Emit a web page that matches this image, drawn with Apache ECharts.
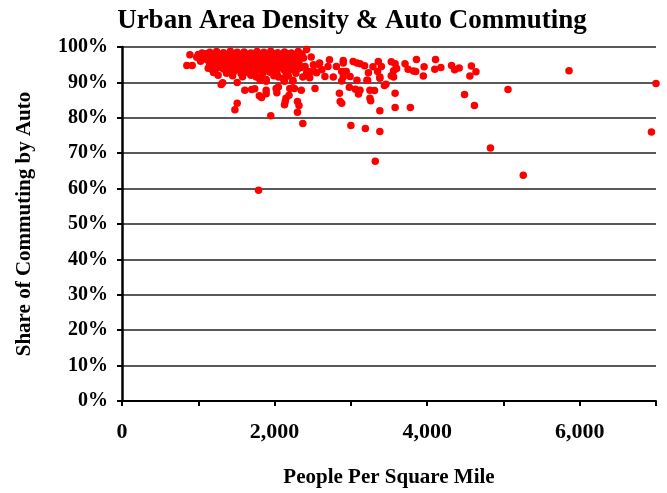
<!DOCTYPE html>
<html>
<head>
<meta charset="utf-8">
<script src="https://cdn.jsdelivr.net/npm/echarts@6/dist/echarts.min.js"></script>
<style>html,body{margin:0;padding:0;background:#fff}#c{width:667px;height:493px}</style>
</head>
<body>
<div id="c"></div>
<script>
// [people per square mile, share of commuting by auto (%)]
const corePoints = [
  [1050,98.3],[1150,98.5],[1240,98.7],[1330,98.4],[1420,98.8],[1510,98.5],[1600,98.6],[1690,98.3],[1770,98.7],[1860,98.5],[1950,98.8],[2040,98.4],[2130,98.6],[2220,98.3],[2310,98.7],
  [1000,97.9],[1090,98.1],[1180,97.8],[1270,98.0],[1360,97.7],[1450,98.1],[1540,97.9],[1630,98.0],[1720,97.8],[1810,98.0],[1900,97.7],[1990,98.1],[2080,97.9],[2170,98.1],[2260,97.8],[2360,98.0],
  [980,97.1],[1070,96.8],[1160,97.2],[1250,96.9],[1340,97.3],[1430,96.8],[1520,97.1],[1610,96.9],[1700,97.3],[1790,96.8],[1880,97.0],[1970,97.2],[2060,96.8],[2150,97.1],[2240,96.9],[2330,97.2],
  [1030,96.0],[1120,96.3],[1210,95.9],[1300,96.2],[1390,96.4],[1480,96.0],[1570,96.3],[1660,95.9],[1750,96.2],[1840,96.4],[1930,96.0],[2020,96.3],[2110,95.9],[2200,96.2],[2290,96.0],
  [1150,95.2],[1240,95.5],[1330,95.1],[1420,95.4],[1510,95.6],[1600,95.2],[1690,95.5],[1780,95.1],[1870,95.4],[1960,95.2],[2050,95.6],[2140,95.3],[2230,95.0],[2320,95.4],
  [1180,94.6],[1270,94.3],[1360,94.7],[1450,94.4],[1540,94.6],[1630,94.2],[1720,94.7],[1810,94.4],[1900,94.5],[1990,94.2],[2080,94.6],[2170,94.4],[2260,94.7],[2350,94.2],
  [1220,93.5],[1330,93.8],[1420,93.4],[1500,93.7],[1590,93.5],[1680,93.9],[1770,93.4],[1860,93.7],[1950,93.5],[2040,93.8],[2130,93.4],[2220,93.6],[2310,93.9],
  [1370,92.6],[1460,92.9],[1560,92.5],[1650,92.8],[1740,92.4],[1850,92.7],[1940,92.9],[2030,92.5],[2150,92.8],[2280,92.6],
  [1450,91.9],[1580,91.6],[1690,92.0],[1830,91.7],[1990,91.9],[2180,91.8],
  [1130,94.0],[1200,92.8],[1260,92.0],[1190,93.4]
];
const fringePoints = [
  [890,97.8],[850,94.8],[920,94.8],[2420,99.3],[2480,97.2],[2380,96.9],[2400,94.5],[2420,92.7],[2460,93.1],
  [2510,95.0],[2550,92.7],[2590,95.5],[2620,93.6],[2660,91.7],[2700,94.5],[2720,96.4],[2810,94.5],[2880,93.1],
  [2900,95.5],[2900,96.2],[2940,93.1],[2990,91.7],[3030,95.9],[3080,95.5],[3120,95.3],[3180,94.7],[3230,92.7],
  [3290,94.4],[3350,93.1],[3360,95.9],[3400,94.5],[3380,91.5],[3530,95.8],[3580,95.3],[3600,93.9],[3560,91.5],
  [3530,91.9],[3710,95.3],[3750,93.7],[3820,93.2],[3850,93.1],[3860,96.5],[3960,94.4],[3950,91.8],[4110,96.5],
  [4100,93.7],[4180,94.2],[4320,94.8],[4360,93.6],[4420,94.1],[4580,94.6],[4640,93.0],[4560,91.8],
  [2770,91.5],[2900,91.5],[2880,90.4],[3080,90.6],[3210,90.6],[3220,90.6],[3380,91.2],[3560,93.3],
  [2520,93.1],[2580,95.0],[2370,91.5],[2440,92.0],[2460,91.3],[2050,91.5],[2110,91.1],[2240,90.6],[2130,90.3],
  [2240,90.3],[1760,91.5],[1810,90.6],[1890,90.3],[1890,90.8],[1320,89.9],[1300,89.4],[1510,90.0]
];
const lowerPoints = [
  [1610,87.8],[1700,88.0],[1740,88.2],[1890,87.8],[2030,87.1],[2020,88.3],[2050,88.7],[2200,88.3],[2260,88.3],
  [2350,87.8],[2530,88.3],[2980,88.6],[3060,88.1],[3120,87.8],[3250,87.8],[3310,87.7],[3460,89.5],[3440,89.1],
  [2850,86.9],[3100,86.7],[3580,86.9],[1800,86.2],[1830,85.7],[1890,86.8],[2190,86.4],[2150,85.5],[2140,84.6],
  [2130,83.7],[2300,84.6],[2320,83.5],[2860,84.6],[2880,84.1],[3250,85.5],[3260,84.8],[1510,84.1],[1480,82.3],
  [3580,82.9],[3780,82.9],[3380,82.0],[4490,86.6],[4620,83.5],[5060,88.0],[5860,93.3],[7000,89.7],
  [1950,80.6],[2300,81.6],[2370,78.4],[3000,77.8],[3190,77.0],[3380,76.1],[6940,76.0],
  [4830,71.5],[3320,67.7],[5260,63.8],[1790,59.5]
];
const xTicks = [0,1000,2000,3000,4000,5000,6000,7000];
const xLabels = ['0','','2,000','','4,000','','6,000',''];
const yTicks = [0,10,20,30,40,50,60,70,80,90,100];

const font = '"Liberation Serif", "DejaVu Serif", serif';
const chart = echarts.init(document.getElementById('c'), null, {renderer:'canvas'});
const dot = {type:'scatter', symbol:'circle', symbolSize:7.5, clip:false, itemStyle:{color:'#ff0000', opacity:1}};
chart.setOption({
  animation:false,
  backgroundColor:'#fff',
  title:{
    text:'Urban Area Density & Auto Commuting',
    left:347, top:3, textAlign:'center',
    textStyle:{fontFamily:font, fontWeight:'bold', fontSize:27, color:'#000'}
  },
  grid:{left:122, width:534, top:47, height:355, containLabel:false},
  xAxis:{
    type:'value', min:xTicks[0], max:xTicks[xTicks.length-1], interval:1000,
    name:'People Per Square Mile', nameLocation:'middle', nameGap:66,
    nameTextStyle:{fontFamily:font, fontWeight:'bold', fontSize:21, color:'#000'},
    axisLine:{show:true, onZero:false, lineStyle:{color:'#000', width:2}},
    axisTick:{show:true, inside:false, length:5, lineStyle:{color:'#000', width:2}},
    axisLabel:{margin:20, fontFamily:font, fontWeight:'bold', fontSize:22, color:'#000',
      formatter:(v)=>{const i=xTicks.indexOf(v);return i>=0?xLabels[i]:'';}},
    splitLine:{show:false}
  },
  yAxis:{
    type:'value', min:yTicks[0], max:yTicks[yTicks.length-1], interval:10,
    name:'Share of Commuting by Auto', nameLocation:'middle', nameGap:87, nameRotate:90,
    nameTextStyle:{fontFamily:font, fontWeight:'bold', fontSize:21, color:'#000'},
    axisLine:{show:true, lineStyle:{color:'#000', width:2.5}},
    axisTick:{show:true, inside:false, length:5, lineStyle:{color:'#000', width:2}},
    axisLabel:{margin:14, fontFamily:font, fontWeight:'bold', fontSize:20, color:'#000',
      formatter:'{value}%'},
    splitLine:{show:true, lineStyle:{color:'#222', width:1.5}}
  },
  series:[
    Object.assign({data:corePoints}, dot),
    Object.assign({data:fringePoints}, dot),
    Object.assign({data:lowerPoints}, dot)
  ]
});
</script>
</body>
</html>
